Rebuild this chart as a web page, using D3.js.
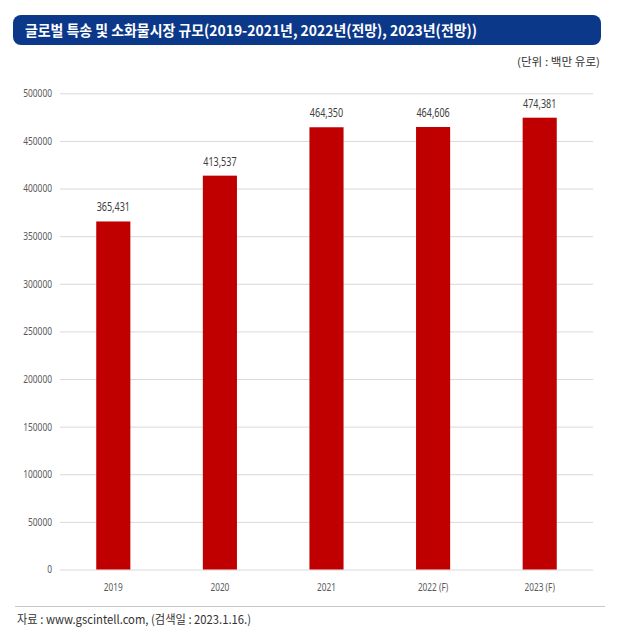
<!DOCTYPE html>
<html><head><meta charset="utf-8">
<script src="https://cdn.jsdelivr.net/npm/d3@7"></script>
<style>body{margin:0;background:#fff}svg{display:block}</style>
</head><body>
<script>
const categories = ["2019","2020","2021","2022 (F)","2023 (F)"];
const values = [365431, 413537, 464350, 464606, 474381];
const valueLabels = ["365,431","413,537","464,350","464,606","474,381"];
const yTicks = [0,50000,100000,150000,200000,250000,300000,350000,400000,450000,500000];
const title = "글로벌 특송 및 소화물시장 규모(2019-2021년, 2022년(전망), 2023년(전망))";
const unit = "(단위 : 백만 유로)";
const source = "자료 : www.gscintell.com, (검색일 : 2023.1.16.)";

const W=640,H=639;
const svg=d3.select("body").append("svg").attr("width",W).attr("height",H);
const narrow="'Noto Sans',sans-serif";
const kr="'Noto Sans CJK KR','Noto Sans',sans-serif";
function condense(sel,f){sel.each(function(){const l=this.getComputedTextLength();d3.select(this).attr("textLength",l*f).attr("lengthAdjust","spacingAndGlyphs");});}

svg.append("rect").attr("x",13).attr("y",15).attr("width",588).attr("height",30).attr("rx",8).attr("fill","#0c388a");
svg.append("text").attr("x",25).attr("y",35.5).attr("fill","#fff").attr("font-family",kr).attr("font-weight","bold")
  .attr("font-size",15).attr("textLength",452).attr("lengthAdjust","spacingAndGlyphs").text(title);
svg.append("text").attr("x",600).attr("y",66).attr("text-anchor","end").attr("fill","#333").attr("font-family",kr)
  .attr("font-size",11).attr("textLength",83).attr("lengthAdjust","spacingAndGlyphs").text(unit);

const x=d3.scaleBand().domain(categories).range([60,593]).paddingInner(0.68).paddingOuter(0.34);
const y=d3.scaleLinear().domain([0,500000]).range([569.5,93.3]);

const gy=svg.append("g").attr("transform","translate(60,0)")
  .call(d3.axisLeft(y).tickValues(yTicks).tickSize(-533).tickFormat(d3.format("d")));
gy.select(".domain").remove();
gy.selectAll(".tick line").attr("stroke","#d9d9d9").attr("stroke-width",1);
gy.selectAll(".tick text").attr("x",-8).attr("fill","#595959").attr("font-family",narrow).attr("font-size",10.5).call(condense,0.8);

svg.append("g").selectAll("rect").data(values).join("rect")
  .attr("x",(d,i)=>x(categories[i])).attr("width",x.bandwidth())
  .attr("y",d=>y(d)).attr("height",d=>y(0)-y(d)).attr("fill","#c00000");

svg.append("g").selectAll("text").data(values).join("text")
  .attr("x",(d,i)=>x(categories[i])+x.bandwidth()/2).attr("y",d=>y(d)-10)
  .attr("text-anchor","middle").attr("fill","#404040").attr("font-family",narrow).attr("font-size",12)
  .text((d,i)=>valueLabels[i]).call(condense,0.75);

const gx=svg.append("g").attr("transform","translate(0,569.5)").call(d3.axisBottom(x).tickSize(0));
gx.select(".domain").remove();
gx.selectAll(".tick text").attr("dy",0).attr("y",21).attr("fill","#595959").attr("font-family",narrow).attr("font-size",11).call(condense,0.75);

svg.append("line").attr("x1",15).attr("x2",605).attr("y1",606.5).attr("y2",606.5).attr("stroke","#c8c8c8").attr("stroke-width",1);
svg.append("text").attr("x",17).attr("y",624).attr("fill","#333").attr("font-family",kr).attr("font-size",12)
  .attr("textLength",234).attr("lengthAdjust","spacingAndGlyphs").text(source);
</script>
</body></html>
